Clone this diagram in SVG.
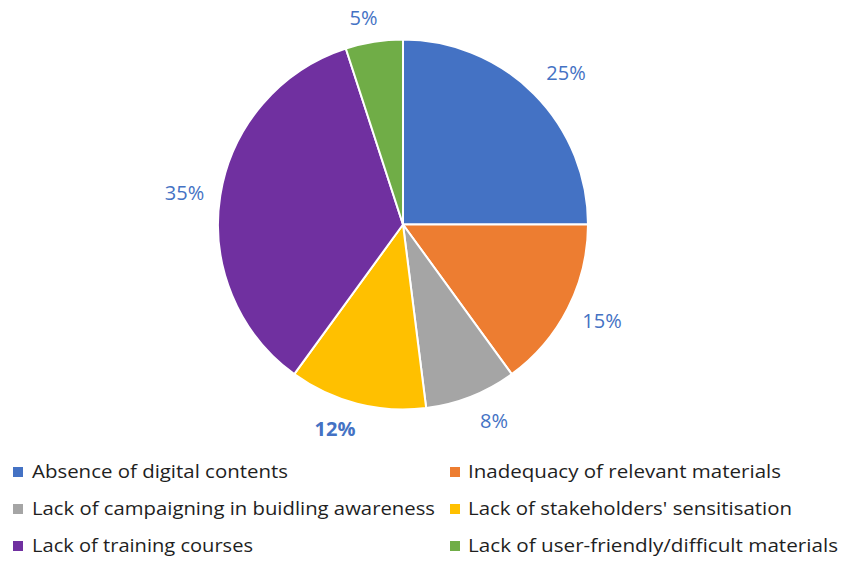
<svg xmlns="http://www.w3.org/2000/svg" width="846" height="561" viewBox="0 0 846 561">
<style>
.slice{stroke:#fff;stroke-width:2;stroke-linejoin:round}
.pct{font-family:"Open Sans","Noto Sans",sans-serif;font-size:20px;fill:#4472C4;text-anchor:middle}
.leg{font-family:"Open Sans","Noto Sans",sans-serif;font-size:18px;fill:#1f1f1f}
</style>
<rect width="846" height="561" fill="#fff"/>
<g id="pie">
<g id="s-absence"><path class="slice" fill="#4472C4" d="M403,224.5 L403,39.5 A185,185 0 0 1 588,224.5 Z"/></g>
<g id="s-inadequacy"><path class="slice" fill="#ED7D31" d="M403,224.5 L588,224.5 A185,185 0 0 1 511.74,374.17 Z"/></g>
<g id="s-campaigning"><path class="slice" fill="#A5A5A5" d="M403,224.5 L511.74,374.17 A185,185 0 0 1 426.19,408.04 Z"/></g>
<g id="s-stakeholders"><path class="slice" fill="#FFC000" d="M403,224.5 L426.19,408.04 A185,185 0 0 1 294.26,374.17 Z"/></g>
<g id="s-training"><path class="slice" fill="#7030A0" d="M403,224.5 L294.26,374.17 A185,185 0 0 1 345.83,48.55 Z"/></g>
<g id="s-userfriendly"><path class="slice" fill="#70AD47" d="M403,224.5 L345.83,48.55 A185,185 0 0 1 403,39.5 Z"/></g>
</g>
<g id="labels">
<text class="pct" x="566" y="80">25%</text>
<text class="pct" x="602" y="328">15%</text>
<text class="pct" x="494" y="428">8%</text>
<text class="pct" x="335" y="436" font-weight="bold">12%</text>
<text class="pct" x="184.5" y="200">35%</text>
<text class="pct" x="363.5" y="25">5%</text>
</g>
<g id="legend">
<g id="leg1"><rect x="13" y="467" width="10" height="10" fill="#4472C4"/><text class="leg" x="32" y="478" textLength="256" lengthAdjust="spacingAndGlyphs">Absence of digital contents</text></g>
<g id="leg2"><rect x="450" y="467" width="10" height="10" fill="#ED7D31"/><text class="leg" x="468" y="478" textLength="313" lengthAdjust="spacingAndGlyphs">Inadequacy of relevant materials</text></g>
<g id="leg3"><rect x="13" y="504" width="10" height="10" fill="#A5A5A5"/><text class="leg" x="32" y="515" textLength="403" lengthAdjust="spacingAndGlyphs">Lack of campaigning in buidling awareness</text></g>
<g id="leg4"><rect x="450" y="504" width="10" height="10" fill="#FFC000"/><text class="leg" x="468" y="515" textLength="324" lengthAdjust="spacingAndGlyphs">Lack of stakeholders' sensitisation</text></g>
<g id="leg5"><rect x="13" y="541" width="10" height="10" fill="#7030A0"/><text class="leg" x="32" y="552" textLength="221" lengthAdjust="spacingAndGlyphs">Lack of training courses</text></g>
<g id="leg6"><rect x="450" y="541" width="10" height="10" fill="#70AD47"/><text class="leg" x="468" y="552" textLength="370" lengthAdjust="spacingAndGlyphs">Lack of user-friendly/difficult materials</text></g>
</g>
</svg>
